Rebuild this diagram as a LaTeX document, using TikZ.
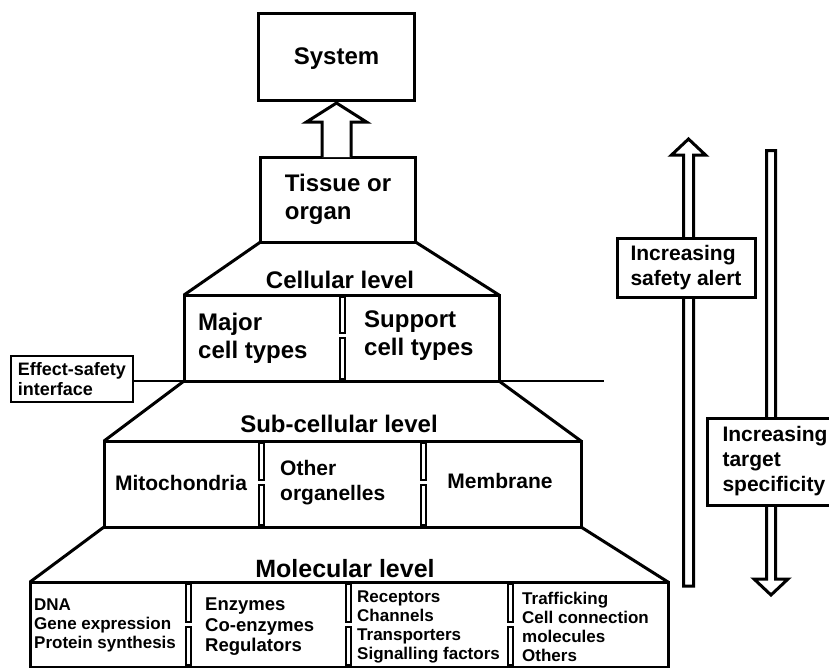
\documentclass[tikz,border=0pt]{standalone}
\usepackage{fontspec}
\setmainfont{Liberation Sans}
\usetikzlibrary{calc}

\begin{document}
\begin{tikzpicture}[x=1pt, y=-1pt,
    frame/.style={draw, line width=3pt, outer sep=0pt},
    bigtext/.style={font=\bfseries\fontsize{24}{28}\selectfont, align=left, inner sep=0pt},
    midtext/.style={font=\bfseries\fontsize{21}{25}\selectfont, align=left, inner sep=0pt},
    smalltext/.style={font=\bfseries\fontsize{17}{19}\selectfont, align=left, inner sep=0pt},
    divider/.style={draw, line width=2.2pt, fill=white},
    hollow/.style={draw, line width=3pt, fill=white, line join=miter}]

    \useasboundingbox (0,0) rectangle (829,667);

    % top of the pyramid
    \node[frame, bigtext, text depth=0pt, minimum width=156pt, minimum height=87pt] (system) at (336.5,56.5) {System};
    \node[frame, bigtext, minimum width=155pt, minimum height=85pt] (tissue) at (338,199.5) {Tissue or\\organ};
    \draw[hollow] ($(system.south |- tissue.north)+(-14.5,0)$) -- ($(system.south)+(-14.5,22)$)
        -- ($(system.south)+(-30,22)$) -- ($(system.south)+(0,3)$) -- ($(system.south)+(30,22)$)
        -- ($(system.south)+(14.5,22)$) -- ($(system.south |- tissue.north)+(14.5,0)$);

    % level boxes
    \node[frame, minimum width=315pt, minimum height=86pt] (cell) at (341.5,338) {};
    \node[frame, minimum width=477pt, minimum height=86pt] (subcell) at (342.5,484) {};
    \node[frame, minimum width=638pt, minimum height=85pt] (molec) at (349,624.5) {};

    \draw[line width=3pt] (tissue.south west) -- (cell.north west);
    \draw[line width=3pt] (tissue.south east) -- (cell.north east);
    \draw[line width=3pt] (cell.south west) -- (subcell.north west);
    \draw[line width=3pt] (cell.south east) -- (subcell.north east);
    \draw[line width=3pt] (subcell.south west) -- (molec.north west);
    \draw[line width=3pt] (subcell.south east) -- (molec.north east);

    \node[bigtext] (celltitle) at (340,280) {Cellular level};
    \node[bigtext] (subtitle) at (339,424) {Sub-cellular level};
    \node[bigtext, font=\bfseries\fontsize{25}{28}\selectfont] (moltitle) at (345,569) {Molecular level};

    % dividers
    \foreach \x in {342.5}{
        \draw[divider] ({\x-2.6},296.5) rectangle ({\x+2.6},333);
        \draw[divider] ({\x-2.6},338) rectangle ({\x+2.6},379.5);
    }
    \foreach \x in {261.5,423.5}{
        \draw[divider] ({\x-2.6},442.5) rectangle ({\x+2.6},480);
        \draw[divider] ({\x-2.6},485) rectangle ({\x+2.6},525.5);
    }
    \foreach \x in {188.5,348.5,510.5}{
        \draw[divider] ({\x-2.6},583.5) rectangle ({\x+2.6},622);
        \draw[divider] ({\x-2.6},627) rectangle ({\x+2.6},665.5);
    }

    % cell contents
    \node[bigtext, anchor=west] (major) at (198,338) {Major\\cell types};
    \node[bigtext, anchor=west] (support) at (364,336) {Support\\cell types};
    \node[midtext] (mito) at (181,483) {Mitochondria};
    \node[midtext, anchor=west] (organ) at (280,483) {Other\\organelles};
    \node[midtext] (membrane) at (500,481) {Membrane};
    \node[smalltext, anchor=west] (dna) at (34,625) {DNA\\Gene expression\\Protein synthesis};
    \node[smalltext, anchor=west, font=\bfseries\fontsize{18.5}{20.5}\selectfont] (enzymes) at (205,627) {Enzymes\\Co-enzymes\\Regulators};
    \node[smalltext, anchor=west] (receptors) at (357,627) {Receptors\\Channels\\Transporters\\Signalling factors};
    \node[smalltext, anchor=west] (traffic) at (522,627) {Trafficking\\Cell connection\\molecules\\Others};

    % effect-safety interface
    \node[frame, line width=2.5pt, font=\bfseries\fontsize{18}{20}\selectfont, align=left,
        inner xsep=7pt, minimum height=46pt] (esi) at (72,379) {Effect-safety\\interface};
    \coordinate (ifaceEnd) at (604,381);
    \draw[line width=2.5pt] (esi.east |- ifaceEnd) -- (ifaceEnd);

    % increasing safety alert
    \coordinate (alertTail) at (688.5,586);
    \coordinate (alertTip) at (688.5,139);
    \draw[hollow] ($(alertTail)+(-5,0)$) -- ($(alertTip)+(-5,16)$) -- ($(alertTip)+(-17,16)$)
        -- (alertTip) -- ($(alertTip)+(17,16)$) -- ($(alertTip)+(5,16)$) -- ($(alertTail)+(5,0)$) -- cycle;
    \node[frame, fill=white, midtext, minimum width=138pt, minimum height=59pt] (alert) at (686,267.5) {Increasing\\safety alert};

    % increasing target specificity
    \coordinate (targetTail) at (771,150.5);
    \coordinate (targetTip) at (771,595);
    \draw[hollow] ($(targetTail)+(-4.5,0)$) -- ($(targetTip)+(-4.5,-16)$) -- ($(targetTip)+(-17,-16)$)
        -- (targetTip) -- ($(targetTip)+(17,-16)$) -- ($(targetTip)+(4.5,-16)$) -- ($(targetTail)+(4.5,0)$) -- cycle;
    \node[frame, fill=white, midtext, anchor=west, inner xsep=15pt, minimum height=87pt] (target) at (707.5,461.5) {Increasing\\target\\specificity};
\end{tikzpicture}
\end{document}
